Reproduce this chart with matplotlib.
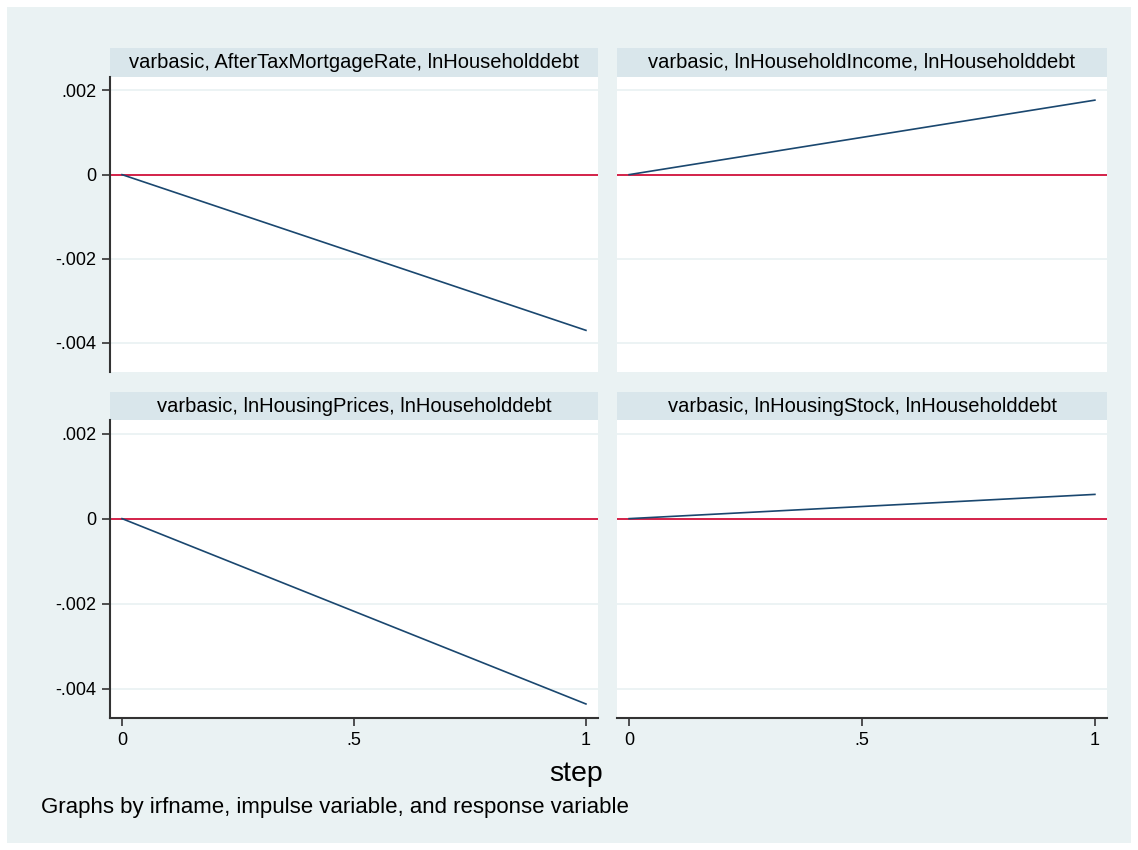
import matplotlib
matplotlib.use("Agg")
import matplotlib.pyplot as plt
from matplotlib.patches import Rectangle

plt.rcParams['font.family'] = ['Liberation Sans', 'DejaVu Sans']

# ---- data ----
steps = [0, 1]
panel_titles = [
    "varbasic, AfterTaxMortgageRate, lnHouseholddebt",
    "varbasic, lnHouseholdIncome, lnHouseholddebt",
    "varbasic, lnHousingPrices, lnHouseholddebt",
    "varbasic, lnHousingStock, lnHouseholddebt",
]
irf_mortgage = [0.0, -0.0037]
irf_income = [0.0, 0.00177]
irf_prices = [0.0, -0.00436]
irf_stock = [0.0, 0.00057]
series = [irf_mortgage, irf_income, irf_prices, irf_stock]

y_ticks = [0.002, 0.0, -0.002, -0.004]
y_ticklabels = [".002", "0", "-.002", "-.004"]
x_ticks = [0, 0.5, 1]
x_ticklabels = ["0", ".5", "1"]
x_label = "step"
note = "Graphs by irfname, impulse variable, and response variable"

# ---- styling ----
W, H = 1138, 850
BG = "#EAF2F3"
STRIP = "#D9E6EB"
NAVY = "#1A476F"
RED = "#D0103A"
SPINE = "#333333"

fig = plt.figure(figsize=(W / 100, H / 100), dpi=100, facecolor="white")
fig.patches.append(Rectangle((7 / W, 7 / H), 1 - 14 / W, 1 - 14 / H,
                             transform=fig.transFigure, facecolor=BG,
                             edgecolor="none", zorder=-10))


def px_axes(x0, y0, x1, y1, **kw):
    return fig.add_axes([x0 / W, 1 - y1 / H, (x1 - x0) / W, (y1 - y0) / H], **kw)


cols = [(110, 598), (617, 1107)]
rows = [(48, 77, 372), (392, 420, 718)]
ylim = (-0.00469, 0.00232)
xlim = (-0.026, 1.026)

for i in range(4):
    r, c = divmod(i, 2)
    x0, x1 = cols[c]
    s0, p0, p1 = rows[r]
    # strip
    sax = px_axes(x0, s0, x1, p0)
    sax.set_facecolor(STRIP)
    sax.set_xticks([]); sax.set_yticks([])
    for sp in sax.spines.values():
        sp.set_visible(False)
    sax.text(0.5, 0.5, panel_titles[i], ha="center", va="center",
             fontsize=14.5, color="black", transform=sax.transAxes)
    # plot
    ax = px_axes(x0, p0, x1, p1)
    ax.set_facecolor("white")
    ax.set_xlim(*xlim)
    ax.set_ylim(*ylim)
    for yt in y_ticks:
        if yt != 0:
            ax.axhline(yt, color=BG, lw=1.3, zorder=1)
    ax.axhline(0, color=RED, lw=1.3, zorder=2)
    ax.plot(steps, series[i], color=NAVY, lw=1.2, zorder=3)
    for sp in ax.spines.values():
        sp.set_visible(False)
    ax.spines["left"].set_color(SPINE)
    ax.spines["bottom"].set_color(SPINE)
    ax.spines["left"].set_linewidth(1.5)
    ax.spines["bottom"].set_linewidth(1.5)
    if c == 0:
        ax.spines["left"].set_visible(True)
        ax.set_yticks(y_ticks)
        ax.set_yticklabels(y_ticklabels)
    else:
        ax.set_yticks([])
    if r == 1:
        ax.spines["bottom"].set_visible(True)
        ax.set_xticks(x_ticks)
        ax.set_xticklabels(x_ticklabels)
    else:
        ax.set_xticks([])
    ax.tick_params(axis="both", labelsize=13, length=6, width=1.2,
                   color=SPINE, labelcolor="black", pad=4)

fig.text(576 / W, 1 - 774 / H, x_label, ha="center", va="center", fontsize=20.5)
fig.text(41 / W, 1 - 808 / H, note, ha="left", va="center", fontsize=16)

fig.savefig("out.png", dpi=100, facecolor="white")
